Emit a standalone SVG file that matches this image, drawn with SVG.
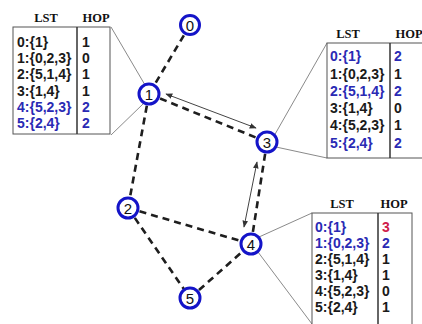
<svg xmlns="http://www.w3.org/2000/svg" width="422" height="324" viewBox="0 0 422 324">
  <style>
    .box { fill: #ffffff; stroke: #555555; stroke-width: 1; }
    .div { stroke: #333333; stroke-width: 1.5; }
    .lead { stroke: #8a8a8a; stroke-width: 1; fill: none; }
    .hdr { font-family: "Liberation Serif", serif; font-weight: bold; font-size: 12.5px; fill: #111111; text-anchor: middle; }
    .row { font-family: "Liberation Sans", Arial, sans-serif; font-weight: bold; font-size: 14px; fill: #1a1a1a; }
    .blue { fill: #2a2ab4; }
    .red { fill: #d0204a; }
    .edge { stroke: #1e1e1e; stroke-width: 2.6; stroke-dasharray: 7 5; fill: none; }
    .link { stroke: #444444; stroke-width: 1; fill: none; marker-start: url(#tip); marker-end: url(#tip); }
    .node circle { fill: #ffffff; stroke: #1414c8; stroke-width: 3; }
    .node text { font-family: "Liberation Sans", Arial, sans-serif; font-size: 15px; fill: #111111; text-anchor: middle; }
  </style>
  <defs>
    <marker id="tip" viewBox="0 0 10 10" refX="9" refY="5" markerWidth="7" markerHeight="7" orient="auto-start-reverse" markerUnits="userSpaceOnUse">
      <path d="M0,1 L10,5 L0,9 z" fill="#333333"/>
    </marker>
  </defs>

  <!-- leader lines from tables to their nodes -->
  <g id="leaders">
    <line class="lead" x1="111" y1="27" x2="145" y2="85"/>
    <line class="lead" x1="111" y1="135" x2="143" y2="104"/>
    <line class="lead" x1="327" y1="43" x2="274" y2="136"/>
    <line class="lead" x1="327" y1="158" x2="276" y2="147"/>
    <line class="lead" x1="312" y1="213" x2="259" y2="237"/>
    <line class="lead" x1="312" y1="324" x2="258" y2="252"/>
  </g>

  <!-- connectors -->
  <g id="connectors">
    <line class="edge" x1="190" y1="25" x2="149" y2="94"/>
    <line class="edge" x1="149" y1="94" x2="128" y2="208"/>
    <line class="edge" x1="149" y1="94" x2="267" y2="142"/>
    <line class="edge" x1="267" y1="142" x2="251" y2="244"/>
    <line class="edge" x1="128" y1="208" x2="251" y2="244"/>
    <line class="edge" x1="128" y1="208" x2="190" y2="298"/>
    <line class="edge" x1="190" y1="298" x2="251" y2="244"/>
    <line class="link" x1="166" y1="94" x2="256" y2="128"/>
    <line class="link" x1="257" y1="162" x2="244" y2="227"/>
  </g>

  <!-- nodes -->
  <g id="node0" class="node"><circle cx="190" cy="25" r="9.5"/><text x="190" y="30.5">0</text></g>
  <g id="node1" class="node"><circle cx="149" cy="94" r="10"/><text x="149" y="99.5">1</text></g>
  <g id="node2" class="node"><circle cx="128" cy="208" r="10"/><text x="128" y="213.5">2</text></g>
  <g id="node3" class="node"><circle cx="267" cy="142" r="10"/><text x="267" y="147.5">3</text></g>
  <g id="node4" class="node"><circle cx="251" cy="244" r="10"/><text x="251" y="249.5">4</text></g>
  <g id="node5" class="node"><circle cx="190" cy="298" r="10"/><text x="190" y="303.5">5</text></g>

  <!-- table for node 1 -->
  <g id="table1">
    <text class="hdr" x="46" y="22">LST</text>
    <text class="hdr" x="96" y="22">HOP</text>
    <rect class="box" x="13" y="27" width="97" height="107"/>
    <line class="div" x1="77" y1="27" x2="77" y2="134"/>
    <text class="row" x="17" y="46.5">0:{1}</text><text class="row" x="82" y="46.5">1</text>
    <text class="row" x="17" y="63">1:{0,2,3}</text><text class="row" x="82" y="63">0</text>
    <text class="row" x="17" y="79">2:{5,1,4}</text><text class="row" x="82" y="79">1</text>
    <text class="row" x="17" y="95.5">3:{1,4}</text><text class="row" x="82" y="95.5">1</text>
    <text class="row blue" x="17" y="111.5">4:{5,2,3}</text><text class="row blue" x="82" y="111.5">2</text>
    <text class="row blue" x="17" y="128">5:{2,4}</text><text class="row blue" x="82" y="128">2</text>
  </g>

  <!-- table for node 3 -->
  <g id="table3">
    <text class="hdr" x="348" y="38">LST</text>
    <text class="hdr" x="409" y="38">HOP</text>
    <rect class="box" x="327" y="43" width="110" height="115"/>
    <line class="div" x1="390" y1="43" x2="390" y2="158"/>
    <text class="row blue" x="330" y="61">0:{1}</text><text class="row blue" x="394" y="61">2</text>
    <text class="row" x="330" y="78.5">1:{0,2,3}</text><text class="row" x="394" y="78.5">1</text>
    <text class="row blue" x="330" y="96">2:{5,1,4}</text><text class="row blue" x="394" y="96">2</text>
    <text class="row" x="330" y="113">3:{1,4}</text><text class="row" x="394" y="113">0</text>
    <text class="row" x="330" y="130">4:{5,2,3}</text><text class="row" x="394" y="130">1</text>
    <text class="row blue" x="330" y="147.5">5:{2,4}</text><text class="row blue" x="394" y="147.5">2</text>
  </g>

  <!-- table for node 4 -->
  <g id="table4">
    <text class="hdr" x="342" y="208">LST</text>
    <text class="hdr" x="394" y="208">HOP</text>
    <rect class="box" x="312" y="213" width="100" height="120"/>
    <line class="div" x1="378" y1="213" x2="378" y2="324"/>
    <text class="row blue" x="315" y="231.5">0:{1}</text><text class="row red" x="382" y="231.5">3</text>
    <text class="row blue" x="315" y="247.5">1:{0,2,3}</text><text class="row blue" x="382" y="247.5">2</text>
    <text class="row" x="315" y="264">2:{5,1,4}</text><text class="row" x="382" y="264">1</text>
    <text class="row" x="315" y="280">3:{1,4}</text><text class="row" x="382" y="280">1</text>
    <text class="row" x="315" y="296">4:{5,2,3}</text><text class="row" x="382" y="296">0</text>
    <text class="row" x="315" y="312">5:{2,4}</text><text class="row" x="382" y="312">1</text>
  </g>
</svg>
